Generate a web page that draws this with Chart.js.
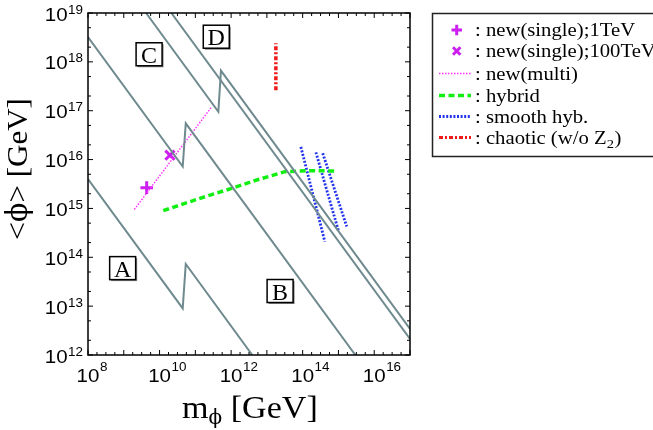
<!DOCTYPE html>
<html>
<head>
<meta charset="utf-8">
<script src="https://cdn.jsdelivr.net/npm/chart.js@4.4.1/dist/chart.umd.min.js"></script>
<style>
  html, body { margin: 0; padding: 0; background: #fff; }
  #wrap { width: 653px; height: 430px; }
</style>
</head>
<body>
<div id="wrap"><canvas id="chart"></canvas></div>
<script>
// Values (GeV)
// gray boundary lines
const lineA_x = [1e8, 4.44e10, 5.4e10, 3.9e12];
const lineA_y = [4e15, 9e12, 7.3e13, 1e12];
const lineC_x = [1e8, 4.44e10, 5.4e10, 2.97e15];
const lineC_y = [3.2e18, 7.2e15, 5.5e16, 1e12];
const lineD1_x = [4.2e9, 4.4e11, 5.2e11, 1e17];
const lineD1_y = [1e19, 9.5e16, 6.6e17, 3.4e12];
const lineD2_x = [2.14e10, 1e17];
const lineD2_y = [1e19, 2.14e12];

// models
const single1TeV = { x: 4.37e9, y: 2.66e15 };
const single100TeV = { x: 1.95e10, y: 1.23e16 };
const multi_x = [1.97e9, 2.86e11];
const multi_y = [9.5e14, 1.2e17];
const hybrid_x = [1.27e10, 1.35e11, 1.04e12, 5.19e12, 3.21e13, 1.58e14, 8.5e14];
const hybrid_y = [9.0e14, 1.61e15, 2.58e15, 3.82e15, 5.65e15, 5.93e15, 5.83e15];
const smooth1_x = [8.9e13, 4.17e14];
const smooth1_y = [1.82e16, 2.09e14];
const smooth2_x = [2.34e14, 1.02e15];
const smooth2_y = [1.41e16, 3.31e14];
const smooth3_x = [3.63e14, 1.7e15];
const smooth3_y = [1.35e16, 4.27e14];
const chaotic_x = [1.78e13, 1.78e13];
const chaotic_y = [2.63e17, 2.4e18];

// region labels (data coords)
const regionNames = ['A', 'B', 'C', 'D'];
const regionX = [9.3e8, 2.34e13, 5.1e9, 3.85e11];
const regionY = [6.0e13, 2.04e13, 1.43e18, 3.27e18];

// axes
const xTickExps = [8, 10, 12, 14, 16];
const yTickExps = [12, 13, 14, 15, 16, 17, 18, 19];

const legendLabels = [': new(single);1TeV', ': new(single);100TeV', ': new(multi)', ': hybrid', ': smooth hyb.', ': chaotic (w/o Z'];

const GRAY = '#6f8a8f';
const PURPLE = '#cc1ff0';
const PINK = '#ff33ff';
const GREEN = '#11ee11';
const BLUE = '#2233ee';
const RED = '#ee1a1a';

const pts = (xs, ys) => xs.map((x, i) => ({ x: x, y: ys[i] }));
const lineSet = (xs, ys, color, width, dash) => ({
  type: 'scatter', data: pts(xs, ys), showLine: true, pointRadius: 0,
  borderColor: color, borderWidth: width, borderDash: dash || [], fill: false
});

// text with a horizontal stretch, like the original wide serif lettering
function stretchText(ctx, s, x, y, font, sx, align) {
  ctx.save();
  ctx.font = font;
  const w = ctx.measureText(s).width * sx;
  let x0 = x;
  if (align === 'center') x0 = x - w / 2;
  if (align === 'right') x0 = x - w;
  ctx.translate(x0, y);
  ctx.scale(sx, 1);
  ctx.textAlign = 'left';
  ctx.fillText(s, 0, 0);
  ctx.restore();
  return w;
}

const decorPlugin = {
  id: 'decor',
  afterDraw(chart) {
    const ctx = chart.ctx;
    const a = chart.chartArea;
    const xs = chart.scales.x, ys = chart.scales.y;
    ctx.save();
    ctx.fillStyle = '#000';
    ctx.strokeStyle = '#000';
    ctx.textBaseline = 'alphabetic';

    // frame
    ctx.lineWidth = 1.5;
    ctx.strokeRect(a.left, a.top, a.right - a.left, a.bottom - a.top);

    // ticks on all four sides, pointing inwards
    ctx.lineWidth = 1;
    ctx.beginPath();
    for (let e = 8; e <= 17; e++) {
      for (let k = 0; k < 4; k++) {
        if (e === 17 && k > 0) continue;
        const px = xs.getPixelForValue(Math.pow(10, e + k / 4));
        const len = k === 0 ? 5 : 3;
        ctx.moveTo(px, a.bottom); ctx.lineTo(px, a.bottom - len);
        ctx.moveTo(px, a.top); ctx.lineTo(px, a.top + len);
      }
    }
    for (let e = 12; e <= 19; e++) {
      [1, 2, 5].forEach(m => {
        if (e === 19 && m > 1) return;
        const py = ys.getPixelForValue(m * Math.pow(10, e));
        const len = m === 1 ? 5 : 3;
        ctx.moveTo(a.left, py); ctx.lineTo(a.left + len, py);
        ctx.moveTo(a.right, py); ctx.lineTo(a.right - len, py);
      });
    }
    ctx.stroke();

    // tick labels
    const base = '19px "Liberation Sans", Arial, sans-serif';
    const sup = '12px "Liberation Sans", Arial, sans-serif';
    xTickExps.forEach(e => {
      const px = xs.getPixelForValue(Math.pow(10, e));
      const w = stretchText(ctx, '10', px, 381.5, base, 1.08, 'center');
      stretchText(ctx, String(e), px + w / 2 + 0.5, 371, sup, 1.12, 'left');
    });
    yTickExps.forEach(e => {
      const py = ys.getPixelForValue(Math.pow(10, e));
      ctx.font = sup;
      const ws = ctx.measureText(String(e)).width * 1.12;
      stretchText(ctx, String(e), 83 - ws, py + 0.5, sup, 1.12, 'left');
      stretchText(ctx, '10', 83 - ws - 0.5, py + 7.5, base, 1.08, 'right');
    });

    // axis titles
    const tf = '31px "Liberation Serif", "Times New Roman", serif';
    let x0 = 182;
    x0 += stretchText(ctx, 'm', x0, 418, tf, 1.1, 'left');
    x0 += stretchText(ctx, 'ϕ', x0, 424, '21px "DejaVu Serif", serif', 0.95, 'left');
    stretchText(ctx, ' [GeV]', x0, 418, tf, 1.1, 'left');

    ctx.save();
    ctx.translate(27, 240);
    ctx.rotate(-Math.PI / 2);
    let y0 = 0;
    const yf = '29px "Liberation Serif", "Times New Roman", serif';
    y0 += stretchText(ctx, '<', y0, 0, yf, 1.1, 'left');
    y0 += stretchText(ctx, 'ϕ', y0, 0, '30px "DejaVu Serif", serif', 0.95, 'left');
    stretchText(ctx, '> [GeV]', y0, 0, yf, 1.07, 'left');
    ctx.restore();

    // region labels in boxes
    regionNames.forEach((n, i) => {
      const cx = xs.getPixelForValue(regionX[i]);
      const cy = ys.getPixelForValue(regionY[i]);
      const bw = 26, bh = 23;
      ctx.fillStyle = '#888';
      ctx.fillRect(cx - bw / 2 + 1.5, cy - bh / 2 + 1.5, bw, bh);
      ctx.fillStyle = '#fff';
      ctx.fillRect(cx - bw / 2, cy - bh / 2, bw, bh);
      ctx.lineWidth = 1.5;
      ctx.strokeStyle = '#000';
      ctx.strokeRect(cx - bw / 2, cy - bh / 2, bw, bh);
      ctx.fillStyle = '#000';
      stretchText(ctx, n, cx, cy + 8.5, '24px "Liberation Serif", serif', 1.0, 'center');
    });

    // legend
    const lx = 432.5, ly = 13.5;
    ctx.lineWidth = 1.5;
    ctx.strokeStyle = '#222';
    ctx.strokeRect(lx, ly, 240, 143);
    const rows = [30, 51, 73.5, 95.5, 116.5, 137.5];
    const lf = '18px "Liberation Serif", "Times New Roman", serif';
    // symbols
    ctx.strokeStyle = PURPLE;
    ctx.lineWidth = 3;
    ctx.beginPath();
    ctx.moveTo(451.5, rows[0]); ctx.lineTo(462, rows[0]);
    ctx.moveTo(456.7, rows[0] - 5.2); ctx.lineTo(456.7, rows[0] + 5.2);
    ctx.moveTo(453, rows[1] - 3.7); ctx.lineTo(460.4, rows[1] + 3.7);
    ctx.moveTo(453, rows[1] + 3.7); ctx.lineTo(460.4, rows[1] - 3.7);
    ctx.stroke();
    const sample = (y, color, w, dash) => {
      ctx.save();
      ctx.strokeStyle = color; ctx.lineWidth = w; ctx.setLineDash(dash);
      ctx.beginPath(); ctx.moveTo(439, y); ctx.lineTo(471, y); ctx.stroke();
      ctx.restore();
    };
    sample(rows[2], PINK, 1.5, [1.5, 1.5]);
    sample(rows[3], GREEN, 3.5, [6, 3.5]);
    sample(rows[4], BLUE, 2.8, [2, 1.6]);
    sample(rows[5], RED, 3, [4, 2, 2, 2]);
    ctx.fillStyle = '#000';
    legendLabels.forEach((t, i) => {
      const w = stretchText(ctx, t, 475, rows[i] + 6, lf, 1.15, 'left');
      if (i === 5) {
        const w2 = stretchText(ctx, '2', 475 + w, rows[i] + 10, '13px "Liberation Serif", serif', 1.12, 'left');
        stretchText(ctx, ')', 475 + w + w2 + 0.5, rows[i] + 6, lf, 1.15, 'left');
      }
    });
    ctx.restore();
  }
};

const ctx = document.getElementById('chart').getContext('2d');
new Chart(ctx, {
  type: 'scatter',
  data: {
    datasets: [
      lineSet(lineA_x, lineA_y, GRAY, 2),
      lineSet(lineC_x, lineC_y, GRAY, 2),
      lineSet(lineD1_x, lineD1_y, GRAY, 2),
      lineSet(lineD2_x, lineD2_y, GRAY, 2),
      lineSet(multi_x, multi_y, PINK, 1.5, [1.5, 1.5]),
      lineSet(hybrid_x, hybrid_y, GREEN, 3.5, [6, 3.5]),
      lineSet(smooth1_x, smooth1_y, BLUE, 2.8, [2, 1.6]),
      lineSet(smooth2_x, smooth2_y, BLUE, 2.8, [2, 1.6]),
      lineSet(smooth3_x, smooth3_y, BLUE, 2.8, [2, 1.6]),
      lineSet(chaotic_x, chaotic_y, RED, 3.5, [4, 2, 2, 2]),
      { type: 'scatter', data: [single1TeV], pointStyle: 'cross', pointRadius: 6.3,
        borderColor: PURPLE, borderWidth: 3, backgroundColor: PURPLE },
      { type: 'scatter', data: [single100TeV], pointStyle: 'crossRot', pointRadius: 6.5,
        borderColor: PURPLE, borderWidth: 3, backgroundColor: PURPLE }
    ]
  },
  options: {
    responsive: true,
    maintainAspectRatio: false,
    animation: false,
    layout: { padding: { left: 88, top: 13, right: 243, bottom: 75 } },
    scales: {
      x: { type: 'logarithmic', min: 1e8, max: 1e17, display: false },
      y: { type: 'logarithmic', min: 1e12, max: 1e19, display: false }
    },
    plugins: { legend: { display: false }, tooltip: { enabled: false } },
    elements: { line: { tension: 0 } }
  },
  plugins: [decorPlugin]
});
</script>
</body>
</html>
